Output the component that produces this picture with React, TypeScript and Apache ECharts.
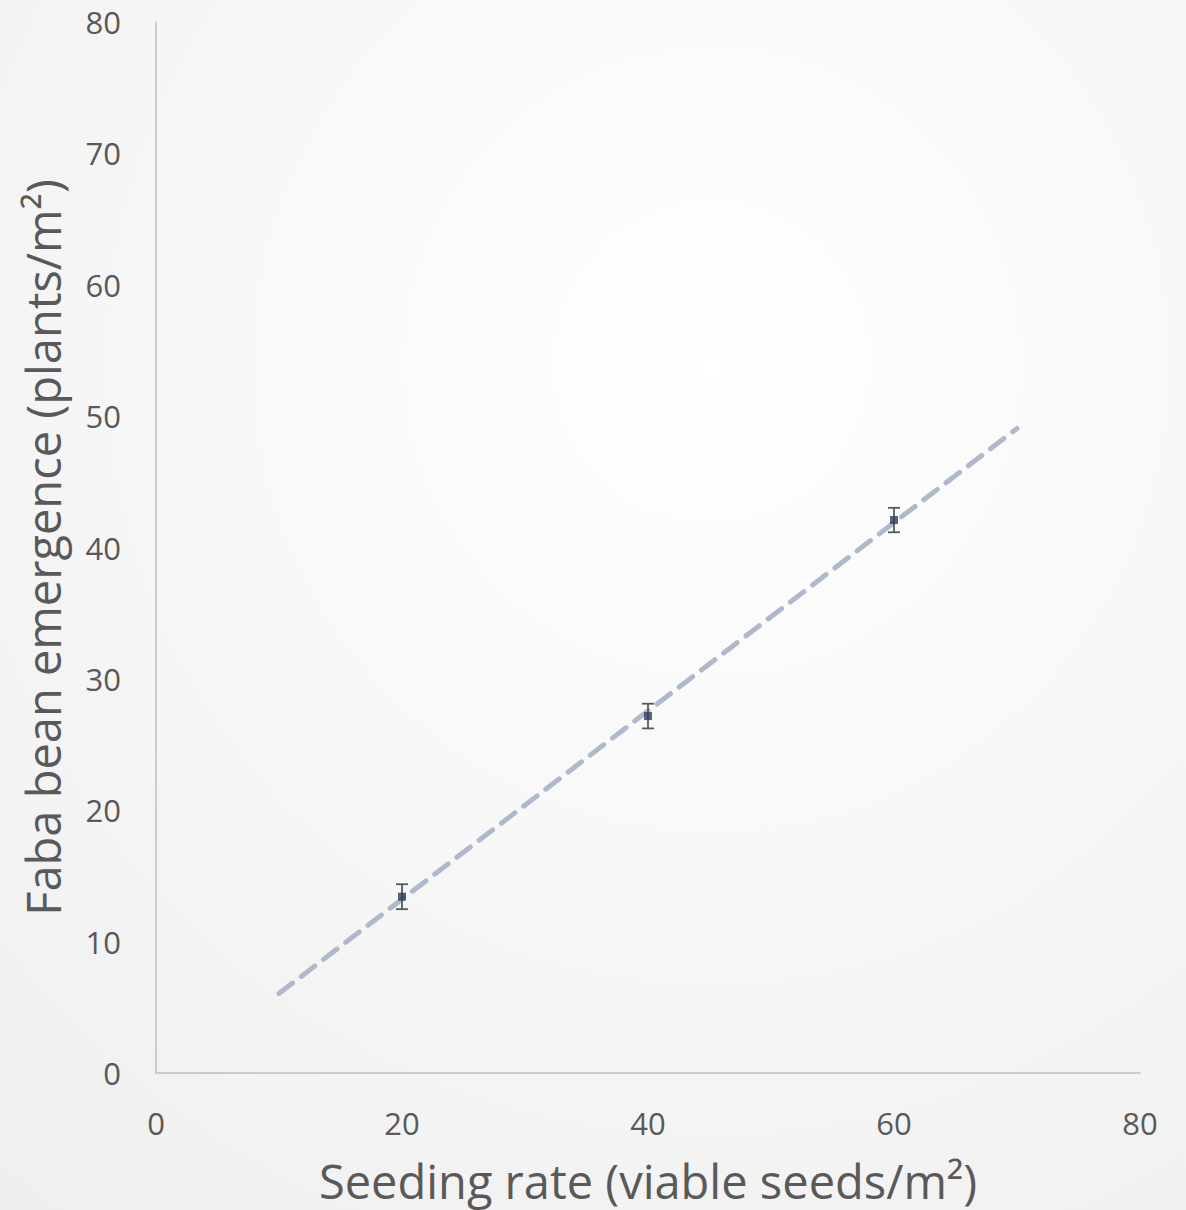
import React, { useEffect, useRef } from "react";
import * as echarts from "echarts";

const seedingRate = [20, 40, 60];
const emergence = [13.42, 27.17, 42.09];
const errorHalf = [0.95, 0.94, 0.93];
const trendRange = [10, 70];
const xTicks = [0, 20, 40, 60, 80];
const yTicks = [0, 10, 20, 30, 40, 50, 60, 70, 80];

function fitLine(xs: number[], ys: number[]) {
  const n = xs.length;
  const mx = xs.reduce((a, b) => a + b, 0) / n;
  const my = ys.reduce((a, b) => a + b, 0) / n;
  let num = 0, den = 0;
  for (let i = 0; i < n; i++) {
    num += (xs[i] - mx) * (ys[i] - my);
    den += (xs[i] - mx) * (xs[i] - mx);
  }
  const slope = num / den;
  return { slope, intercept: my - slope * mx };
}

export default function App() {
  const ref = useRef<HTMLDivElement>(null);
  useEffect(() => {
    if (!ref.current) return;
    const chart = echarts.init(ref.current, null, { renderer: "svg" });
    const { slope, intercept } = fitLine(seedingRate, emergence);
    const trendData = trendRange.map((x) => [x, intercept + slope * x]);
    const errData = seedingRate.map((x, i) => [x, emergence[i] - errorHalf[i], emergence[i] + errorHalf[i]]);
    const font = "'Open Sans', 'Noto Sans', sans-serif";
    chart.setOption({
      animation: false,
      backgroundColor: {
        type: "radial",
        x: 0.6,
        y: 0.3,
        r: 0.9,
        colorStops: [
          { offset: 0, color: "#ffffff" },
          { offset: 1, color: "#efefef" },
        ],
      },
      grid: { left: 156, right: 46, top: 22, bottom: 137 },
      xAxis: {
        type: "value",
        min: 0,
        max: 80,
        interval: 20,
        name: "Seeding rate (viable seeds/m²)",
        nameLocation: "middle",
        nameGap: 84,
        nameTextStyle: { fontSize: 47, color: "#595959", fontFamily: font },
        axisLine: { lineStyle: { color: "#bfbfbf", width: 1.5 } },
        axisTick: { show: false },
        splitLine: { show: false },
        axisLabel: { fontSize: 31, color: "#595959", fontFamily: font, margin: 34 },
      },
      yAxis: {
        type: "value",
        min: 0,
        max: 80,
        interval: 10,
        name: "Faba bean emergence (plants/m²)",
        nameLocation: "middle",
        nameGap: 90,
        nameTextStyle: { fontSize: 47, color: "#595959", fontFamily: font },
        axisLine: { show: true, lineStyle: { color: "#bfbfbf", width: 1.5 } },
        axisTick: { show: false },
        splitLine: { show: false },
        axisLabel: { fontSize: 31, color: "#595959", fontFamily: font, margin: 35 },
      },
      series: [
        {
          type: "line",
          data: trendData,
          symbol: "none",
          lineStyle: { color: "#aeb9cb", width: 5, type: [17, 11], cap: "round" },
          z: 2,
        },
        {
          type: "custom",
          data: errData,
          z: 3,
          renderItem: (params: any, api: any) => {
            const x = api.value(0);
            const lo = api.coord([x, api.value(1)]);
            const hi = api.coord([x, api.value(2)]);
            const half = 6;
            const style = { stroke: "#595959", lineWidth: 1.8 };
            return {
              type: "group",
              children: [
                { type: "line", shape: { x1: lo[0], y1: lo[1], x2: hi[0], y2: hi[1] }, style },
                { type: "line", shape: { x1: lo[0] - half, y1: lo[1], x2: lo[0] + half, y2: lo[1] }, style },
                { type: "line", shape: { x1: hi[0] - half, y1: hi[1], x2: hi[0] + half, y2: hi[1] }, style },
              ],
            };
          },
        },
        {
          type: "scatter",
          data: seedingRate.map((x, i) => [x, emergence[i]]),
          symbol: "rect",
          symbolSize: 8,
          itemStyle: { color: "#2f3d5a" },
          z: 4,
        },
      ],
    });
    return () => chart.dispose();
  }, []);
  return (
    <div style={{ position: "absolute", left: 0, top: 0 }}>
      <div ref={ref} style={{ width: 1186, height: 1210 }} />
    </div>
  );
}
